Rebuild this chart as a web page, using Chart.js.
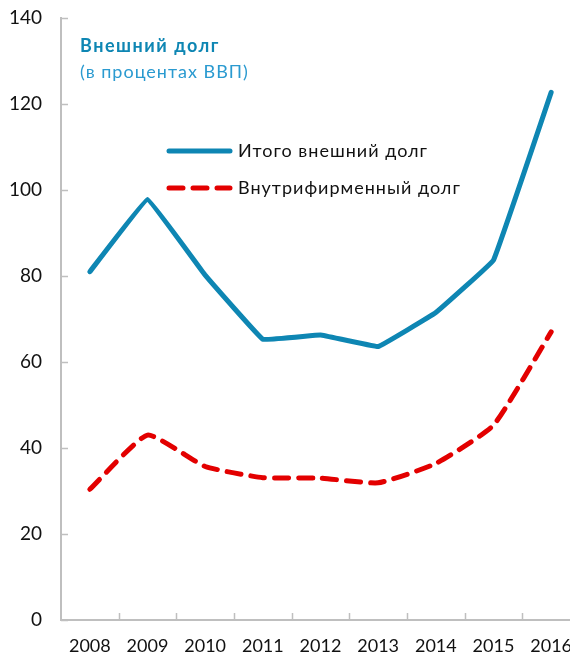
<!DOCTYPE html>
<html>
<head>
<meta charset="utf-8">
<script src="https://cdn.jsdelivr.net/npm/chart.js@4"></script>
<style>
  html, body { margin: 0; padding: 0; background: #fff; overflow: hidden; }
  #wrap { width: 580px; height: 658px; }
</style>
</head>
<body>
<div id="wrap"><canvas id="c" width="580" height="658"></canvas></div>
<script>
  const years = ["2008", "2009", "2010", "2011", "2012", "2013", "2014", "2015", "2016"];
  const totalDebt = [81.0, 97.8, 80.2, 65.3, 66.3, 63.6, 71.5, 83.7, 122.7];
  const intrafirmDebt = [30.4, 43.0, 35.7, 33.1, 33.0, 31.9, 36.4, 45.3, 67.0];
  const yTicks = [0, 20, 40, 60, 80, 100, 120, 140];

  const FONT = "Lato, 'Open Sans', sans-serif";
  const BLUE = "#0e86b3";
  const RED = "#e30000";
  const AXIS = "#bfbfbf";

  // inward tick marks + title + legend drawn inside the plot area
  const decor = {
    id: "decor",
    afterDraw(chart) {
      const { ctx, chartArea: ca, scales: { x, y } } = chart;
      ctx.save();
      ctx.strokeStyle = AXIS;
      ctx.lineWidth = 1.5;
      yTicks.forEach(v => {
        const py = Math.round(y.getPixelForValue(v)) + 0.5;
        ctx.beginPath(); ctx.moveTo(ca.left, py); ctx.lineTo(ca.left + 7, py); ctx.stroke();
      });
      for (let i = 0; i < years.length - 1; i++) {
        const px = Math.round((x.getPixelForTick(i) + x.getPixelForTick(i + 1)) / 2) + 0.5;
        ctx.beginPath(); ctx.moveTo(px, ca.bottom); ctx.lineTo(px, ca.bottom - 7); ctx.stroke();
      }

      ctx.textBaseline = "middle";
      ctx.letterSpacing = "1.5px";
      ctx.fillStyle = BLUE;
      ctx.font = "bold 18px " + FONT;
      ctx.fillText("Внешний долг", 80, 46);
      ctx.letterSpacing = "1px";
      ctx.fillStyle = "#2a9ad0";
      ctx.font = "18px " + FONT;
      ctx.fillText("(в процентах ВВП)", 80, 72);

      chart.data.datasets.forEach((ds, i) => {
        const ly = 151 + i * 37;
        ctx.strokeStyle = ds.borderColor;
        ctx.lineWidth = ds.borderWidth;
        ctx.lineCap = "round";
        ctx.setLineDash(ds.borderDash || []);
        ctx.beginPath(); ctx.moveTo(169, ly); ctx.lineTo(230, ly); ctx.stroke();
        ctx.setLineDash([]);
        ctx.fillStyle = "#111";
        ctx.font = "18px " + FONT;
        ctx.fillText(ds.label, 238, ly);
      });
      ctx.restore();
    },
  };

  new Chart(document.getElementById("c"), {
    type: "line",
    data: {
      labels: years,
      datasets: [
        { label: "Итого внешний долг", data: totalDebt, borderColor: BLUE,
          borderWidth: 5, pointRadius: 0, tension: 0.05, borderCapStyle: "round",
          borderJoinStyle: "round", fill: false },
        { label: "Внутрифирменный долг", data: intrafirmDebt, borderColor: RED,
          borderWidth: 5, borderDash: [14, 10], pointRadius: 0, tension: 0.15,
          borderCapStyle: "round", borderJoinStyle: "round", fill: false },
      ],
    },
    options: {
      responsive: false, animation: false,
      layout: { padding: { top: 18, left: 0, right: 0, bottom: 0 } },
      plugins: { legend: { display: false }, tooltip: { enabled: false } },
      scales: {
        x: {
          offset: true,
          grid: { display: false, drawTicks: false },
          border: { display: true, color: AXIS, width: 2 },
          ticks: { color: "#111", font: { family: FONT, size: 18 }, padding: 15,
            maxRotation: 0, autoSkip: false },
          afterFit: s => { s.height = 38; s.paddingLeft = 0; s.paddingRight = 0; },
        },
        y: {
          min: 0, max: 140,
          afterBuildTicks: s => { s.ticks = yTicks.map(v => ({ value: v })); },
          grid: { display: false, drawTicks: false },
          border: { display: true, color: AXIS, width: 2 },
          ticks: { color: "#111", font: { family: FONT, size: 19 }, padding: 19 },
          afterFit: s => { s.width = 61; s.paddingTop = 0; s.paddingBottom = 0; },
        },
      },
    },
    plugins: [decor],
  });
</script>
</body>
</html>
